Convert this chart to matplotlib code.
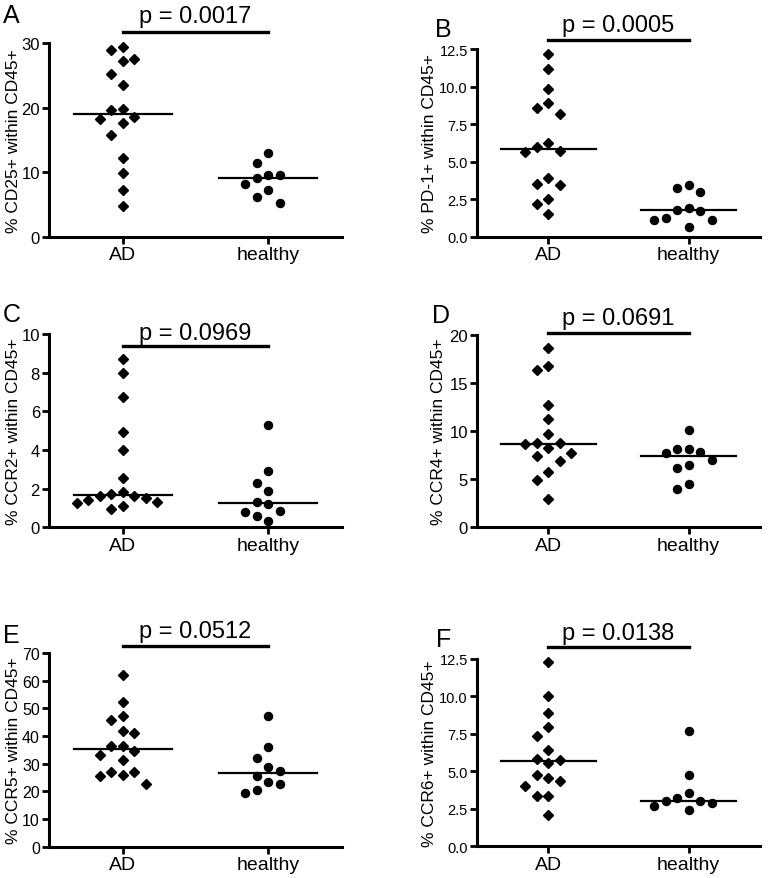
import numpy as np
import matplotlib
matplotlib.use("Agg")
import matplotlib.pyplot as plt
import matplotlib.transforms as mtransforms

plt.rcParams["font.family"] = ["Liberation Sans", "DejaVu Sans"]

groups = ["AD", "healthy"]
letters = ["A", "B", "C", "D", "E", "F"]
ylabels = ["% CD25+ within CD45+", "% PD-1+ within CD45+", "% CCR2+ within CD45+",
           "% CCR4+ within CD45+", "% CCR5+ within CD45+", "% CCR6+ within CD45+"]
pvals = ["p = 0.0017", "p = 0.0005", "p = 0.0969", "p = 0.0691", "p = 0.0512", "p = 0.0138"]

# values
cd25_ad = [29.4, 29.0, 27.2, 27.5, 25.2, 23.5, 19.6, 19.8, 18.6, 18.2, 17.7, 15.8, 12.2, 9.9, 7.3, 4.7]
cd25_h = [13.0, 11.4, 9.6, 9.1, 9.5, 8.2, 7.2, 6.2, 5.2]
pd1_ad = [12.17, 11.17, 9.84, 8.88, 8.59, 8.17, 6.26, 5.68, 5.66, 5.95, 3.89, 3.42, 3.49, 2.51, 2.20, 1.51]
pd1_h = [3.42, 3.22, 2.98, 1.80, 1.71, 1.89, 1.13, 1.09, 1.24, 0.62]
ccr2_ad = [8.71, 7.98, 6.76, 4.91, 4.0, 2.55, 1.84, 1.74, 1.64, 1.60, 1.43, 1.28, 1.52, 1.29, 1.09, 0.95]
ccr2_h = [5.31, 2.93, 2.29, 1.90, 1.29, 1.19, 0.81, 0.60, 0.86, 0.34]
ccr4_ad = [18.58, 16.78, 16.33, 12.73, 11.28, 9.72, 8.79, 8.65, 8.75, 8.20, 7.75, 7.44, 6.89, 5.71, 4.91, 2.91]
ccr4_h = [10.1, 8.13, 7.72, 7.79, 8.13, 6.47, 6.16, 7.02, 4.50, 3.94]
ccr5_ad = [61.9, 52.2, 47.3, 45.7, 41.1, 41.8, 36.5, 36.3, 34.5, 33.3, 31.3, 27.0, 27.0, 25.8, 25.5, 22.7]
ccr5_h = [47.3, 35.9, 32.0, 27.5, 28.7, 25.7, 22.8, 23.4, 20.4, 19.4]
ccr6_ad = [12.28, 10.0, 8.9, 7.94, 7.36, 6.45, 5.78, 5.83, 5.58, 4.78, 4.38, 4.56, 4.0, 3.34, 3.34, 2.09]
ccr6_h = [7.70, 4.78, 3.56, 3.23, 3.02, 2.91, 3.0, 2.71, 2.42]

ad_data = [cd25_ad, pd1_ad, ccr2_ad, ccr4_ad, ccr5_ad, ccr6_ad]
h_data = [cd25_h, pd1_h, ccr2_h, ccr4_h, ccr5_h, ccr6_h]
ymax = [30, 12.5, 10, 20, 70, 12.5]
ystep = [10, 2.5, 2, 5, 10, 2.5]

W, H = 772, 879
fig = plt.figure(figsize=(W / 100, H / 100), dpi=100)

# axes boxes in pixels: left, right, top, bottom
boxes = [(49, 342, 44.3, 237.7), (477, 760, 50, 237.7),
         (49, 342, 335, 528.3), (477, 760, 335.7, 528.3),
         (49, 342, 654, 847.7), (477, 760, 660, 847.3)]
bar_y = [1.06, 1.05, 0.936, 1.007, 1.038, 1.066]
txt_y = [1.11, 1.096, 0.974, 1.056, 1.083, 1.107]
lab_x = [-0.095, -0.141, -0.095, -0.11, -0.095, -0.141]
letter_pos = [(3, 23), (435, 37), (3, 322), (432, 323), (3, 643), (436, 647)]
ytick_fs = [12, 10.5, 12, 12, 11.5, 10.5]


def swarm(vals, px_per_unit, step, min_gap=13):
    vals = np.asarray(vals)
    order = np.argsort(vals)[::-1]
    placed = []
    cols = np.zeros(len(vals))
    for i in order:
        y = vals[i] * px_per_unit
        for c in [0, -1, 1, -2, 2, -3, 3, -4, 4]:
            if all(not (pc == c and abs(py - y) < min_gap) for py, pc in placed):
                break
        placed.append((y, c))
        cols[i] = c
    return cols * step


for k in range(6):
    l, r, t, b = boxes[k]
    ax = fig.add_axes([l / W, 1 - b / H, (r - l) / W, (b - t) / H])
    ax.set_xlim(-0.51, 1.51)
    ax.set_ylim(0, ymax[k])
    ppu = (b - t) / ymax[k]
    step = 11.5 / ((r - l) / 2.02)

    for g, (vals, mk, ms) in enumerate([(ad_data[k], "D", 5.0), (h_data[k], "o", 5.8)]):
        off = swarm(vals, ppu, step)
        ax.plot(g + off, vals, linestyle="none", marker=mk, markersize=ms,
                color="black", clip_on=False, zorder=3)
        med = np.median(vals)
        ax.plot([g - 0.34, g + 0.34], [med, med], color="black", lw=1.6, zorder=4)

    # p-value bar and text
    tr = mtransforms.blended_transform_factory(ax.transData, ax.transAxes)
    ax.plot([0, 1], [bar_y[k], bar_y[k]], color="black", lw=2.4, transform=tr, clip_on=False)
    ax.text(0.5, txt_y[k], pvals[k], transform=tr, ha="center", va="baseline", fontsize=17)

    for s in ["top", "right"]:
        ax.spines[s].set_visible(False)
    for s in ["left", "bottom"]:
        ax.spines[s].set_linewidth(2.2)

    ax.set_xticks([0, 1])
    ax.set_xticklabels(groups, fontsize=14)
    yt = np.arange(0, ymax[k] + 0.001, ystep[k])
    ax.set_yticks(yt)
    if ystep[k] == 2.5:
        ax.set_yticklabels(["%.1f" % v for v in yt])
    ax.tick_params(axis="y", labelsize=ytick_fs[k], width=2, length=5, pad=1.5)
    ax.tick_params(axis="x", width=2, length=5, pad=2)
    ax.set_ylabel(ylabels[k], fontsize=12.5)
    ax.yaxis.set_label_coords(lab_x[k], 0.5)

    lx, ly = letter_pos[k]
    fig.text(lx / W, 1 - ly / H, letters[k], fontsize=18, ha="left", va="baseline")

fig.savefig("out.png", dpi=100)
